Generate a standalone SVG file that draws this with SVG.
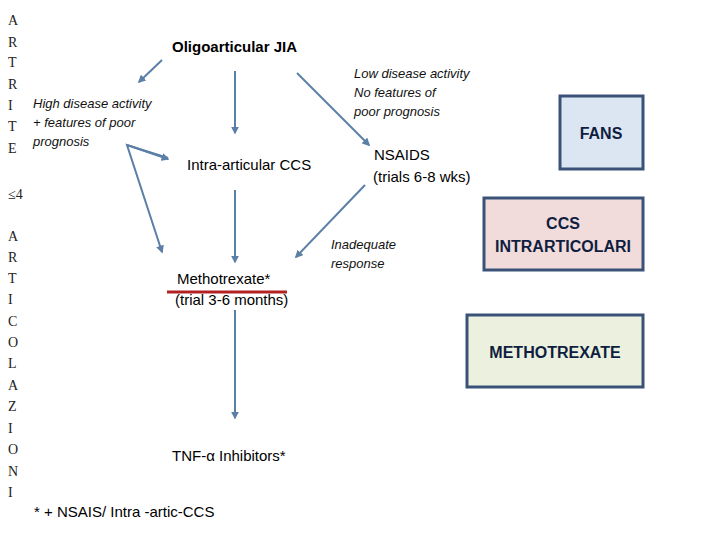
<svg xmlns="http://www.w3.org/2000/svg" width="720" height="540" viewBox="0 0 720 540">
<style>
.l{font-family:"Liberation Serif",serif;font-size:14px;fill:#222}
.t{font-family:"Liberation Sans",sans-serif;font-size:15px;fill:#000}
.i{font-family:"Liberation Sans",sans-serif;font-size:13px;font-style:italic;fill:#111}
.b{font-family:"Liberation Sans",sans-serif;font-size:16px;font-weight:bold;fill:#0f1e40;text-anchor:middle}
.c line{stroke:#5b7fa6;stroke-width:2;marker-end:url(#a)}
.bx{stroke:#3a5278;stroke-width:3}
</style>
<defs><marker id="a" viewBox="0 0 10 10" refX="8" refY="5" markerWidth="4" markerHeight="4" orient="auto"><path d="M0,0L10,5L0,10z" fill="#5b7fa6"/></marker></defs>
<rect width="720" height="540" fill="#fff"/>
<g id="left" class="l">
<text x="8" y="25">A</text><text x="8" y="47">R</text><text x="8" y="67">T</text><text x="8" y="89">R</text><text x="8" y="110">I</text><text x="8" y="131">T</text><text x="8" y="153">E</text>
<text x="8" y="199">≤4</text>
<text x="8" y="241">A</text><text x="8" y="262">R</text><text x="8" y="283">T</text><text x="8" y="304">I</text><text x="8" y="326">C</text><text x="8" y="347">O</text><text x="8" y="368">L</text><text x="8" y="390">A</text><text x="8" y="411">Z</text><text x="8" y="433">I</text><text x="8" y="454">O</text><text x="8" y="476">N</text><text x="8" y="497">I</text>
</g>
<g class="c" id="connectors">
<line x1="162" y1="60" x2="139" y2="82"/>
<line x1="235" y1="71" x2="235" y2="133"/>
<line x1="297" y1="73" x2="369" y2="145"/>
<polyline points="168,158 127,145 162,252" fill="none" stroke="#5b7fa6" stroke-width="2" marker-end="url(#a)"/>
<line x1="127" y1="145" x2="168" y2="159"/>
<line x1="235" y1="190" x2="235" y2="262"/>
<line x1="365" y1="185" x2="296" y2="257"/>
<line x1="235" y1="310" x2="235" y2="418"/>
</g>
<g id="oligo"><text x="172" y="52" class="t" font-weight="bold">Oligoarticular JIA</text></g>
<g id="high"><text class="i"><tspan x="33" y="108">High disease activity</tspan><tspan x="33" y="127">+ features of poor</tspan><tspan x="33" y="146">prognosis</tspan></text></g>
<g id="low"><text class="i"><tspan x="354" y="78">Low disease activity</tspan><tspan x="354" y="97">No features of</tspan><tspan x="354" y="116">poor prognosis</tspan></text></g>
<g id="intra"><text x="187" y="170" class="t">Intra-articular CCS</text></g>
<g id="nsaids"><text x="374" y="160" class="t" font-size="14">NSAIDS</text><text x="373" y="182" class="t" font-size="13">(trials 6-8 wks)</text></g>
<g id="inad"><text class="i"><tspan x="331" y="249">Inadequate</tspan><tspan x="331" y="268">response</tspan></text></g>
<g id="mtx"><text x="177" y="284" class="t">Methotrexate*</text><line x1="167" y1="292" x2="287" y2="292" stroke="#b22222" stroke-width="3"/><text x="175" y="305" class="t" font-size="13">(trial 3-6 months)</text></g>
<g id="tnf"><text x="172" y="461" class="t">TNF-α Inhibitors*</text></g>
<g id="note"><text x="34" y="517" class="t">* + NSAIS/ Intra -artic-CCS</text></g>
<g id="fans"><rect class="bx" x="560" y="96" width="83" height="73" fill="#dce6f2"/><text x="601" y="139" class="b">FANS</text></g>
<g id="ccs"><rect class="bx" x="484" y="198" width="159" height="72" fill="#f2dcdb"/><text x="563" y="229" class="b">CCS</text><text x="563" y="252" class="b">INTRARTICOLARI</text></g>
<g id="metho"><rect class="bx" x="467" y="315" width="176" height="72" fill="#ebf1de"/><text x="555" y="358" class="b">METHOTREXATE</text></g>
</svg>
